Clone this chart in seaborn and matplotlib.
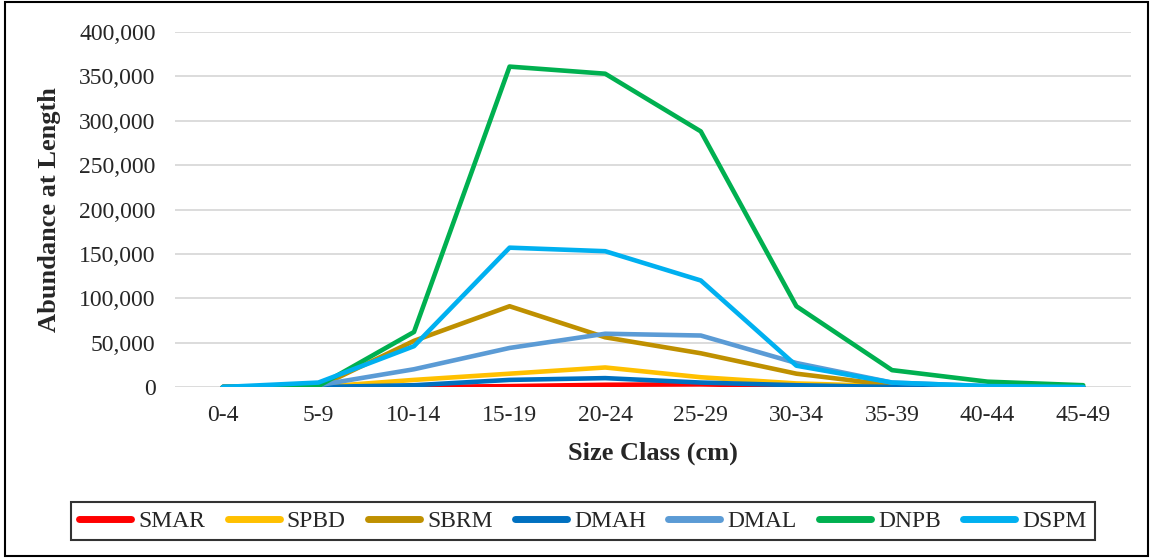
import pandas as pd
import matplotlib
matplotlib.use('Agg')
import matplotlib.pyplot as plt
import seaborn as sns
from matplotlib.patches import Rectangle
from matplotlib.ticker import FuncFormatter

# data
size_class = ['0-4', '5-9', '10-14', '15-19', '20-24', '25-29', '30-34', '35-39', '40-44', '45-49']
smar = [0, 0, 0, 1000, 2500, 3000, 1000, 0, 0, 0]
spbd = [0, 0, 8000, 15000, 22000, 11000, 4000, 1000, 0, 0]
sbrm = [0, 0, 52000, 91000, 56000, 38000, 15000, 2000, 0, 0]
dmah = [0, 0, 2000, 8000, 10000, 5000, 2000, 0, 0, 0]
dmal = [0, 2000, 20000, 44000, 60000, 58000, 27000, 5000, 1000, 0]
dnpb = [0, 1000, 62000, 361000, 353000, 288000, 91000, 19000, 6000, 2000]
dspm = [0, 5000, 46000, 157000, 153000, 120000, 24000, 5000, 1000, 0]

series = {'SMAR': smar, 'SPBD': spbd, 'SBRM': sbrm, 'DMAH': dmah,
          'DMAL': dmal, 'DNPB': dnpb, 'DSPM': dspm}
colors = ['#FF0000', '#FFC000', '#BF9000', '#0070C0', '#5B9BD5', '#00B050', '#00B0F0']

df = pd.DataFrame(series, index=size_class)
df.index.name = 'Size Class'
long_df = df.reset_index().melt(id_vars='Size Class', var_name='Site', value_name='Abundance')

sns.set_style('white')
plt.rcParams['font.family'] = ['Liberation Serif', 'DejaVu Serif']

fig = plt.figure(figsize=(11.54, 5.58), dpi=100)
ax = fig.add_axes([175 / 1154, 171 / 558, 956 / 1154, 355 / 558])

sns.lineplot(data=long_df, x='Size Class', y='Abundance', hue='Site',
             palette=colors, linewidth=3.3, sort=False, ax=ax, legend=True)
for line in ax.get_lines():
    line.set_solid_capstyle('round')
    line.set_solid_joinstyle('round')

ax.set_xlim(-0.5, 9.5)
ax.set_ylim(0, 400000)
ax.set_yticks(range(0, 400001, 50000))
ax.yaxis.set_major_formatter(FuncFormatter(lambda v, p: f'{int(v):,}'))
ax.grid(axis='y', color='#D9D9D9', linewidth=1.3)
ax.set_axisbelow(True)
for s in ax.spines.values():
    s.set_visible(False)
ax.tick_params(axis='both', length=0, labelsize=17)
ax.tick_params(axis='x', pad=13)
ax.tick_params(axis='y', pad=14)
ax.set_xlabel('Size Class (cm)', fontsize=19, fontweight='bold', labelpad=11)
ax.set_ylabel('Abundance at Length', fontsize=19, fontweight='bold', labelpad=13)

handles, labels = ax.get_legend_handles_labels()
ax.get_legend().remove()
leg = fig.legend(handles, labels, ncol=7, loc='center', bbox_to_anchor=(583 / 1154, 1 - 521 / 558),
                 fontsize=17, frameon=True, fancybox=False, edgecolor='black',
                 handlelength=2.2, handletextpad=0.3, columnspacing=0.95, borderpad=0.35)
leg.get_frame().set_linewidth(1.5)
for h in leg.get_lines():
    h.set_linewidth(5)
    h.set_solid_capstyle('round')

fig.patches.append(Rectangle((5 / 1154, 2 / 558), 1143 / 1154, 554 / 558, transform=fig.transFigure,
                             fill=False, edgecolor='black', linewidth=1.5))

fig.savefig('out.png', dpi=100)
